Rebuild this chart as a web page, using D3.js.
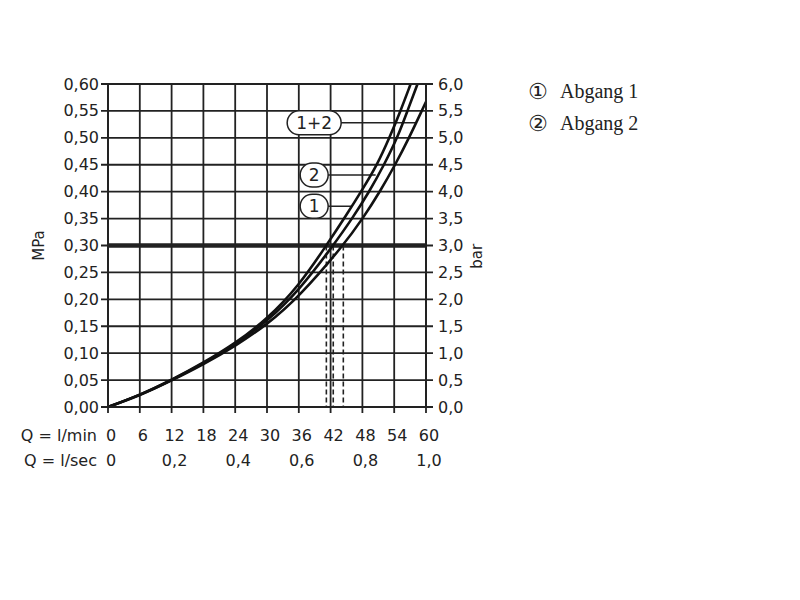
<!DOCTYPE html>
<html lang="de">
<head>
    <meta charset="UTF-8">
    <title>Durchflussdiagramm</title>
    <script src="https://cdn.jsdelivr.net/npm/d3@7"></script>
    <style>
        body { margin: 0; background: #fff; }
        svg text { font-family: "DejaVu Sans", sans-serif; fill: #222; }
    </style>
</head>
<body>
<svg width="800" height="600" xmlns="http://www.w3.org/2000/svg" id="my-svg"></svg>
<script>
    // Kurven: Durchfluss l/min -> Druck MPa
    const q12 = [0, 6, 12, 18, 24, 30, 36, 41.2, 45.0, 48.0, 50.8, 53.1, 55.2, 57.1];
    const p12 = [0, 0.022, 0.050, 0.082, 0.118, 0.163, 0.225, 0.30, 0.357, 0.404, 0.45, 0.50, 0.55, 0.60];
    const q2 = [0, 6, 12, 18, 24, 30, 36, 42.5, 46.2, 49.3, 52.1, 54.6, 56.5, 58.4];
    const p2 = [0, 0.022, 0.050, 0.081, 0.116, 0.159, 0.216, 0.30, 0.352, 0.40, 0.45, 0.50, 0.55, 0.60];
    const q1 = [0, 6, 12, 18, 24, 30, 36, 44.4, 48.2, 51.3, 54.2, 56.8, 59.2, 60];
    const p1 = [0, 0.021, 0.049, 0.079, 0.113, 0.153, 0.204, 0.30, 0.352, 0.40, 0.45, 0.50, 0.55, 0.567];

    // Achsen
    const mpaTicks = [0, 0.05, 0.10, 0.15, 0.20, 0.25, 0.30, 0.35, 0.40, 0.45, 0.50, 0.55, 0.60];
    const barTicks = [0, 0.5, 1.0, 1.5, 2.0, 2.5, 3.0, 3.5, 4.0, 4.5, 5.0, 5.5, 6.0];
    const lminTicks = [0, 6, 12, 18, 24, 30, 36, 42, 48, 54, 60];
    const lsecTicks = [0, 0.2, 0.4, 0.6, 0.8, 1.0];

    // Markierungen
    const refPressure = 0.30;
    const crossFlows = [41.2, 42.5, 44.4];
    const labels = ["1+2", "2", "1"];
    const labelQ = [38.9, 38.9, 38.9];
    const labelP = [0.528, 0.431, 0.373];
    const leaderEndQ = [58.0, 50.5, 46.0];
    const legendItems = ["Abgang 1", "Abgang 2"];
    const legendMarks = ["\u2460", "\u2461"];

    const svg = d3.select("#my-svg");
    const pLeft = 108, pRight = 426, pTop = 84, pBottom = 407;

    const x = d3.scaleLinear().domain([0, 60]).range([pLeft, pRight]);
    const xs = d3.scaleLinear().domain([0, 1]).range([pLeft, pRight]);
    const y = d3.scaleLinear().domain([0, 0.6]).range([pBottom, pTop]);
    const yb = d3.scaleLinear().domain([0, 6]).range([pBottom, pTop]);
    const fmt = d3.format(".2f");
    const fmt1 = d3.format(".1f");
    const comma = s => s.replace(".", ",");

    // Gitter
    svg.append("g").selectAll("line").data(lminTicks).join("line")
        .attr("x1", d => x(d)).attr("x2", d => x(d))
        .attr("y1", pTop).attr("y2", pBottom + 6)
        .attr("stroke", "#222").attr("stroke-width", 1.8);
    svg.append("g").selectAll("line").data(mpaTicks).join("line")
        .attr("x1", pLeft - 7).attr("x2", pRight + 7)
        .attr("y1", d => y(d)).attr("y2", d => y(d))
        .attr("stroke", "#222").attr("stroke-width", 1.8);

    // linke Achse MPa
    svg.append("g").selectAll("text").data(mpaTicks).join("text")
        .attr("x", pLeft - 9).attr("y", d => y(d))
        .attr("text-anchor", "end").attr("dominant-baseline", "central")
        .attr("font-size", 16)
        .text(d => comma(fmt(d)));
    // rechte Achse bar
    svg.append("g").selectAll("text").data(barTicks).join("text")
        .attr("x", pRight + 12).attr("y", d => yb(d))
        .attr("dominant-baseline", "central")
        .attr("font-size", 16)
        .text(d => comma(fmt1(d)));

    svg.append("text")
        .attr("transform", `translate(44,${y(0.3)}) rotate(-90)`)
        .attr("text-anchor", "middle").attr("font-size", 15)
        .text("MPa");
    svg.append("text")
        .attr("transform", `translate(482,${y(0.28)}) rotate(-90)`)
        .attr("text-anchor", "middle").attr("font-size", 15)
        .text("bar");

    // untere Beschriftung
    svg.append("g").selectAll("text").data(lminTicks).join("text")
        .attr("x", d => x(d) + 3).attr("y", 441)
        .attr("text-anchor", "middle").attr("font-size", 16)
        .text(d => d);
    svg.append("g").selectAll("text").data(lsecTicks).join("text")
        .attr("x", d => xs(d) + 3).attr("y", 466)
        .attr("text-anchor", "middle").attr("font-size", 16)
        .text(d => d === 0 ? "0" : comma(fmt1(d)));
    svg.append("text").attr("x", 97).attr("y", 441)
        .attr("text-anchor", "end").attr("font-size", 16).text("Q = l/min");
    svg.append("text").attr("x", 97).attr("y", 466)
        .attr("text-anchor", "end").attr("font-size", 16).text("Q = l/sec");

    // gestrichelte Linien bei 0,30 MPa
    svg.append("g").selectAll("line").data(crossFlows).join("line")
        .attr("x1", d => x(d)).attr("x2", d => x(d))
        .attr("y1", y(refPressure)).attr("y2", pBottom)
        .attr("stroke", "#222").attr("stroke-width", 1.6)
        .attr("stroke-dasharray", "5,3");

    // Hinweislinien
    svg.append("g").selectAll("line").data(labels).join("line")
        .attr("x1", (d, i) => x(labelQ[i])).attr("x2", (d, i) => x(leaderEndQ[i]))
        .attr("y1", (d, i) => y(labelP[i])).attr("y2", (d, i) => y(labelP[i]))
        .attr("stroke", "#222").attr("stroke-width", 1.5);

    // dicke Linie 0,30 MPa
    svg.append("line")
        .attr("x1", pLeft).attr("x2", pRight)
        .attr("y1", y(refPressure)).attr("y2", y(refPressure))
        .attr("stroke", "#222").attr("stroke-width", 4.5);

    // Kurven
    const line = d3.line().x(d => x(d[0])).y(d => y(d[1])).curve(d3.curveBasis);
    const curves = [d3.zip(q1, p1), d3.zip(q2, p2), d3.zip(q12, p12)];
    svg.append("g").selectAll("path").data(curves).join("path")
        .attr("d", line)
        .attr("fill", "none").attr("stroke", "#111").attr("stroke-width", 2.6);

    // Rahmen
    svg.append("rect")
        .attr("x", pLeft).attr("y", pTop).attr("width", pRight - pLeft).attr("height", pBottom - pTop)
        .attr("fill", "none").attr("stroke", "#222").attr("stroke-width", 2);

    // Beschriftungen der Kurven
    labels.forEach((d, i) => {
        const cx = x(labelQ[i]), cy = y(labelP[i]);
        const w = d.length > 1 ? 54 : 28;
        svg.append("rect")
            .attr("x", cx - w / 2).attr("y", cy - 12)
            .attr("width", w).attr("height", 24).attr("rx", 12)
            .attr("fill", "#fff").attr("stroke", "#222").attr("stroke-width", 1.5);
        svg.append("text")
            .attr("x", cx).attr("y", cy)
            .attr("text-anchor", "middle").attr("dominant-baseline", "central")
            .attr("font-size", 17)
            .text(d);
    });

    // Legende
    legendItems.forEach((d, i) => {
        svg.append("text")
            .attr("x", 528).attr("y", 99 + i * 32)
            .attr("font-size", 22)
            .text(legendMarks[i]);
        svg.append("text")
            .attr("x", 560).attr("y", 98 + i * 32)
            .attr("font-size", 20)
            .style("font-family", "'Liberation Serif', serif")
            .text(d);
    });
</script>
</body>
</html>
